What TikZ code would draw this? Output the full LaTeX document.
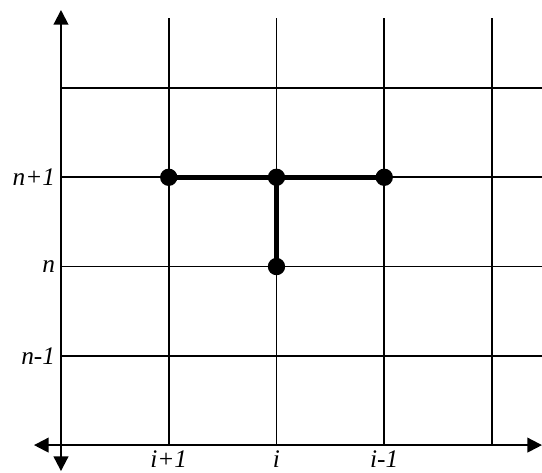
\documentclass[tikz,border=0pt]{standalone}
\usepackage{fontspec}
\setmainfont{Liberation Serif}
\usetikzlibrary{arrows.meta}

\begin{document}
\begin{tikzpicture}[x=80.8pt,y=66.94pt,
        grid/.style={line width=1.4pt},
        axis/.style={line width=1.5pt,{Triangle[length=11pt,width=11pt]}-{Triangle[length=11pt,width=11pt]}},
        dot/.style={circle,fill,inner sep=0pt,minimum size=13pt},
        link/.style={line width=3.8pt},
        lbl/.style={font=\fontsize{19}{22}\selectfont\itshape,inner sep=1pt}]
        \useasboundingbox (-0.566,-0.3025) rectangle (4.464,4.986);

        % grid lines
        \foreach \c in {1,...,4}
            \draw[grid] (\c,0) -- (\c,4.784);
        \foreach \r in {1,...,4}
            \draw[grid] (0,\r) -- (4.464,\r);

        % axes
        \coordinate (xl) at (-0.2506,0);
        \coordinate (xr) at (4.464,0);
        \coordinate (yb) at (0,-0.291);
        \coordinate (yt) at (0,4.874);
        \draw[axis] (xl) -- (xr);
        \draw[axis] (yb) -- (yt);

        % stencil points
        \node[dot] (A) at (1,3) {};
        \node[dot] (B) at (2,3) {};
        \node[dot] (C) at (3,3) {};
        \node[dot] (D) at (2,2) {};
        \draw[link] (A.center) -- (C.center);
        \draw[link] (B.center) -- (D.center);

        % labels
        \node[lbl,anchor=east] (n1) at (-0.04,3) {n+1};
        \node[lbl,anchor=east] (n0) at (-0.04,2) {n};
        \node[lbl,anchor=east] (nm) at (-0.04,1) {n-1};
        \node[lbl,anchor=base] (i1) at (1,-0.25) {i+1};
        \node[lbl,anchor=base] (i0) at (2,-0.25) {i};
        \node[lbl,anchor=base] (im) at (3,-0.25) {i-1};
\end{tikzpicture}
\end{document}
